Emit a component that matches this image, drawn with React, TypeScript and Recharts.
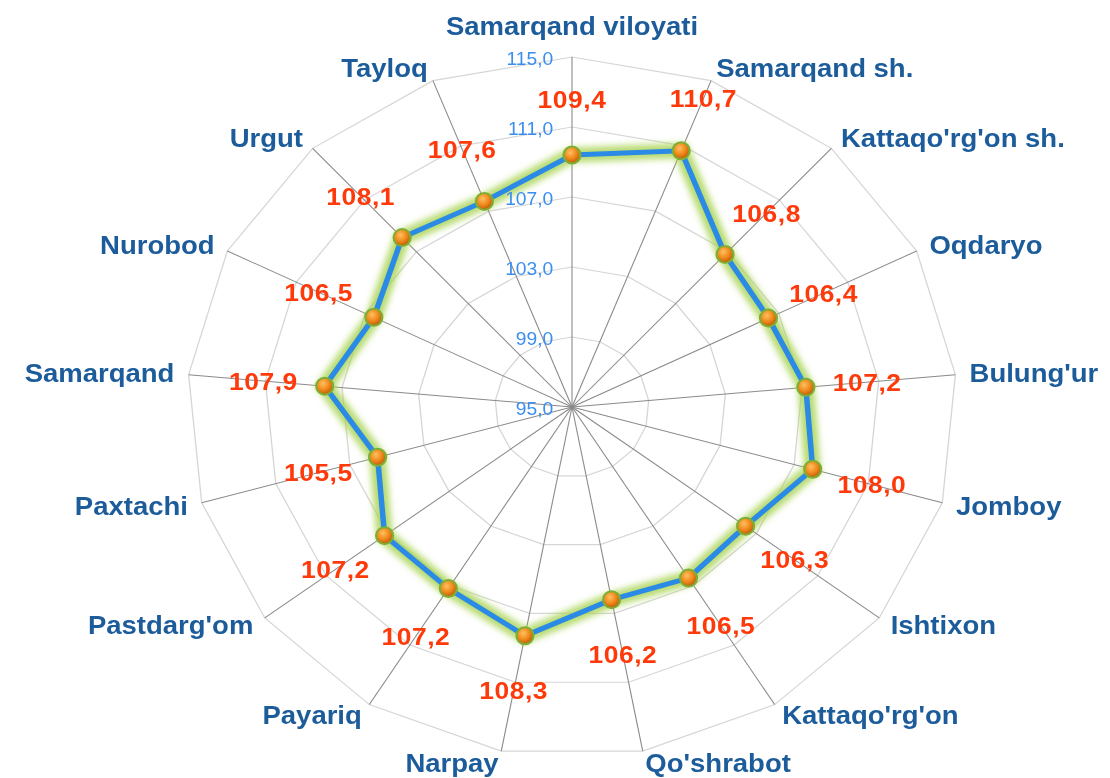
import React from "react";
import {
    RadarChart, Radar, PolarGrid, PolarAngleAxis, PolarRadiusAxis, LabelList
} from "recharts";

const categories = [
    "Samarqand viloyati", "Samarqand sh.", "Kattaqo'rg'on sh.", "Oqdaryo", "Bulung'ur",
    "Jomboy", "Ishtixon", "Kattaqo'rg'on", "Qo'shrabot", "Narpay", "Payariq",
    "Pastdarg'om", "Paxtachi", "Samarqand", "Nurobod", "Urgut", "Tayloq"
];
const values = [
    109.4, 110.7, 106.8, 106.4, 107.2, 108.0, 106.3, 106.5, 106.2, 108.3, 107.2,
    107.2, 105.5, 107.9, 106.5, 108.1, 107.6
];
const radiusTicks = [95, 99, 103, 107, 111, 115];

const data = categories.map((name, i) => ({ name, value: values[i] }));

// the original picture is stretched sideways, so the svg is drawn narrow and scaled
const STRETCH = 1.1;
const W = 1009;
const H = 778;
const CX = 520;
const CY = 407;
const R = 350;

const fmt = (v: number) => v.toFixed(1).replace(".", ",");

function AngleTick(props: any) {
    const { payload, index } = props;
    const t = (index * 2 * Math.PI) / categories.length;
    const sx = Math.sin(t);
    const cy = Math.cos(t);
    const ox = CX + R * sx;
    const oy = CY - R * cy;
    let anchor: "start" | "end" | "middle" = sx > 0 ? "start" : "end";
    let x = ox + Math.sign(sx) * 13 * Math.abs(sx);
    let y = oy - 13 * cy;
    if (Math.abs(sx) < 0.05) {
        anchor = "middle";
        x = ox;
        y = oy - 31;
    }
    return (
        <text x={x} y={y} textAnchor={anchor} dominantBaseline="central"
            fill="#1c5c9b" fontSize={25} fontWeight="bold"
            fontFamily="'Liberation Sans', Arial, sans-serif">
            {payload.value}
        </text>
    );
}

function RadiusTick(props: any) {
    const { x, y, payload } = props;
    return (
        <text x={x - 17} y={y + 2} textAnchor="end" dominantBaseline="central"
            fill="#3b8ef0" fontSize={17.5}
            fontFamily="'Liberation Sans', Arial, sans-serif">
            {fmt(payload.value)}
        </text>
    );
}

function ValueLabel(props: any) {
    const { x, y, value } = props;
    const dx = x - CX;
    const dy = y - CY;
    const len = Math.sqrt(dx * dx + dy * dy) || 1;
    const lx = x + (dx / len) * 56;
    const ly = y + (dy / len) * 56;
    return (
        <text x={lx} y={ly} textAnchor="middle" dominantBaseline="central"
            fill="#ff3a0a" fontSize={24} fontWeight="bold" letterSpacing={0.5}
            fontFamily="'Liberation Sans', Arial, sans-serif">
            {fmt(Number(value))}
        </text>
    );
}

function Dot(props: any) {
    const { cx, cy, index } = props;
    return (
        <ellipse key={`dot-${index}`} cx={cx} cy={cy} rx={8.5 / STRETCH} ry={8.5}
            fill="url(#dotGrad)" stroke="#7fae35" strokeWidth={2} />
    );
}

export default function App() {
    return (
        <div style={{ position: "absolute", left: 0, top: 0, width: 1110, height: 778, overflow: "hidden", background: "#fff" }}>
            <div style={{ width: W, height: H, transform: `scaleX(${STRETCH})`, transformOrigin: "0 0" }}>
                <RadarChart width={W} height={H} cx={CX} cy={CY} outerRadius={R} data={data}
                    margin={{ top: 0, right: 0, bottom: 0, left: 0 }}>
                    <defs>
                        <radialGradient id="dotGrad" cx="40%" cy="35%" r="65%">
                            <stop offset="0%" stopColor="#ffc060" />
                            <stop offset="55%" stopColor="#f08a1c" />
                            <stop offset="100%" stopColor="#c05a08" />
                        </radialGradient>
                        <filter id="glow" x="-10%" y="-10%" width="120%" height="120%">
                            <feGaussianBlur stdDeviation="3" />
                        </filter>
                    </defs>
                    <PolarGrid gridType="polygon" radialLines={false} stroke="#d6d6d6" strokeWidth={1.2} />
                    <PolarGrid gridType="polygon" polarRadius={[0]} stroke="#8a8a8a" strokeWidth={1} />
                    <PolarAngleAxis dataKey="name" tick={AngleTick} tickLine={false} axisLine={false} />
                    <PolarRadiusAxis angle={90} domain={[95, 115]} ticks={radiusTicks} tickCount={6}
                        axisLine={false} tickLine={false} tick={RadiusTick} />
                    <Radar dataKey="value" stroke="#a5d24e" strokeWidth={15} strokeOpacity={0.8}
                        fill="none" fillOpacity={0} filter="url(#glow)" dot={false}
                        isAnimationActive={false} />
                    <Radar dataKey="value" stroke="#2a8ae6" strokeWidth={5} fill="none" fillOpacity={0}
                        dot={Dot} isAnimationActive={false}>
                        <LabelList dataKey="value" content={ValueLabel} />
                    </Radar>
                </RadarChart>
            </div>
        </div>
    );
}
